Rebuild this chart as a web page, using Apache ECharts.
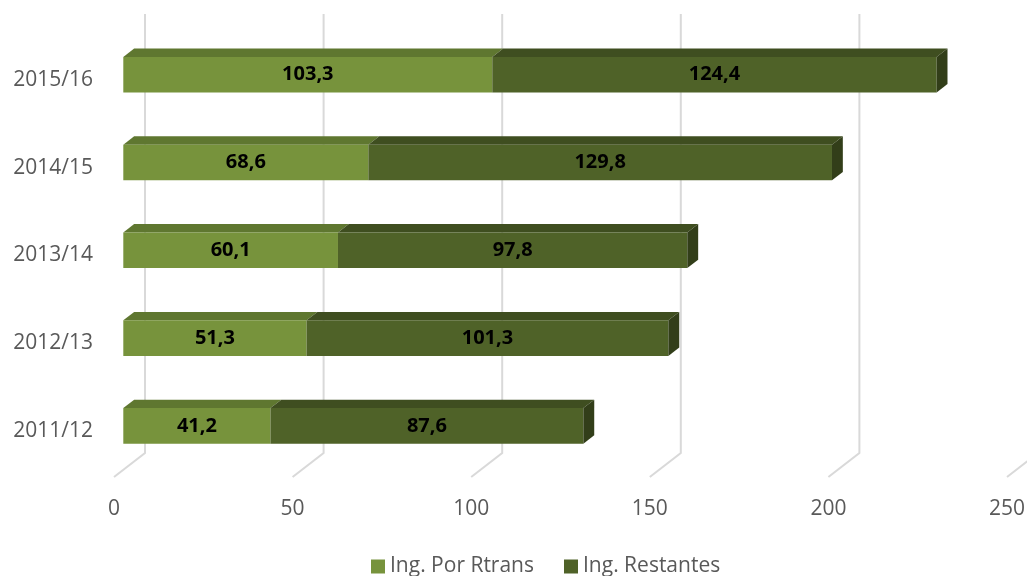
<!DOCTYPE html>
<html>
<head>
<meta charset="utf-8">
<script src="https://cdn.jsdelivr.net/npm/echarts@6/dist/echarts.min.js"></script>
<style>html,body{margin:0;padding:0;background:#fff}#c{width:1027px;height:576px}</style>
</head>
<body>
<div id="c"></div>
<script>
const categories = ['2011/12', '2012/13', '2013/14', '2014/15', '2015/16'];
const rtrans = [41.2, 51.3, 60.1, 68.6, 103.3];
const restantes = [87.6, 101.3, 97.8, 129.8, 124.4];
const ticks = [0, 50, 100, 150, 200, 250];
const seriesNames = ['Ing. Por Rtrans', 'Ing. Restantes'];

const FONT = '"Open Sans", "Liberation Sans", sans-serif';
const FX = -21.7, FY = 16.8;   // front face offset from back plane
const DX = 10.85, DY = -8.4;   // bar depth
const FLOOR_DX = -31, FLOOR_DY = 24;

const fmt = v => v.toFixed(1).replace('.', ',');

function barRenderer(colors, withSide) {
  return function (params, api) {
    const s = api.coord([api.value(0), api.value(2)]);
    const e = api.coord([api.value(1), api.value(2)]);
    const band = api.size([0, 1])[1];
    const h = band * 0.405;
    const xl = s[0] + FX, xr = e[0] + FX;
    const yc = s[1] + FY, yt = yc - h / 2, yb = yc + h / 2;
    const children = [
      { type: 'polygon', shape: { points: [[xl, yt], [xr, yt], [xr + DX, yt + DY], [xl + DX, yt + DY]] },
        style: { fill: colors.top } },
      { type: 'rect', shape: { x: xl, y: yt, width: xr - xl, height: yb - yt },
        style: { fill: colors.front } }
    ];
    if (withSide) {
      children.push({ type: 'polygon', shape: { points: [[xr, yt], [xr + DX, yt + DY], [xr + DX, yb + DY], [xr, yb]] },
        style: { fill: colors.side } });
    }
    children.push({ type: 'text', style: { text: fmt(api.value(3)), x: (xl + xr) / 2, y: yc,
      align: 'center', verticalAlign: 'middle', fill: '#000', font: 'bold 20px ' + FONT } });
    return { type: 'group', children: children };
  };
}

const dataA = categories.map((c, i) => [0, rtrans[i], i, rtrans[i]]);
const dataB = categories.map((c, i) => [rtrans[i], rtrans[i] + restantes[i], i, restantes[i]]);

const chart = echarts.init(document.getElementById('c'));
chart.setOption({
  animation: false,
  backgroundColor: '#ffffff',
  grid: { left: 145, top: 14, width: 893, height: 439, containLabel: false, outerBoundsMode: 'none' },
  xAxis: {
    type: 'value', min: 0, max: 250, interval: 50,
    axisLine: { show: false }, axisTick: { show: false }, splitLine: { show: false },
    axisLabel: { color: '#595959', fontSize: 21, fontFamily: FONT, margin: 46, padding: [0, 62, 0, 0],
      formatter: v => String(v) }
  },
  yAxis: {
    type: 'category', data: categories,
    axisLine: { show: false }, axisTick: { show: false }, splitLine: { show: false },
    axisLabel: { show: false }
  },
  legend: {
    data: seriesNames, left: 371, top: 556, padding: 0, itemWidth: 14, itemHeight: 14, itemGap: 30,
    icon: 'rect',
    textStyle: { color: '#595959', fontSize: 21, fontFamily: FONT }
  },
  series: [
    {
      type: 'custom', name: 'grid', silent: true, z: 1,
      data: ticks.map(v => [v, 0]),
      encode: { x: 0, y: 1 },
      renderItem: function (params, api) {
        const x = api.coord([api.value(0), 0])[0];
        const cs = params.coordSys;
        const bottom = cs.y + cs.height;
        return { type: 'polyline', shape: { points: [[x, cs.y], [x, bottom], [x + FLOOR_DX, bottom + FLOOR_DY]] },
          style: { stroke: '#D9D9D9', lineWidth: 2, fill: null } };
      }
    },
    {
      type: 'custom', name: 'catLabels', silent: true, z: 1,
      data: categories.map((c, i) => [0, i]),
      encode: { x: 0, y: 1 },
      renderItem: function (params, api) {
        const p = api.coord([0, api.value(1)]);
        return { type: 'text', style: { text: categories[params.dataIndex], x: p[0] - 52, y: p[1] + 22,
          align: 'right', verticalAlign: 'middle', fill: '#595959', font: '21px ' + FONT } };
      }
    },
    {
      type: 'custom', name: seriesNames[0], z: 2,
      itemStyle: { color: '#77933C' },
      data: dataA, encode: { x: [0, 1], y: 2 },
      renderItem: barRenderer({ front: '#77933C', top: '#5F7730', side: '#4E6227' }, false)
    },
    {
      type: 'custom', name: seriesNames[1], z: 3,
      itemStyle: { color: '#4F6228' },
      data: dataB, encode: { x: [0, 1], y: 2 },
      renderItem: barRenderer({ front: '#4F6228', top: '#3F4E20', side: '#323E19' }, true)
    }
  ]
});
</script>
</body>
</html>
